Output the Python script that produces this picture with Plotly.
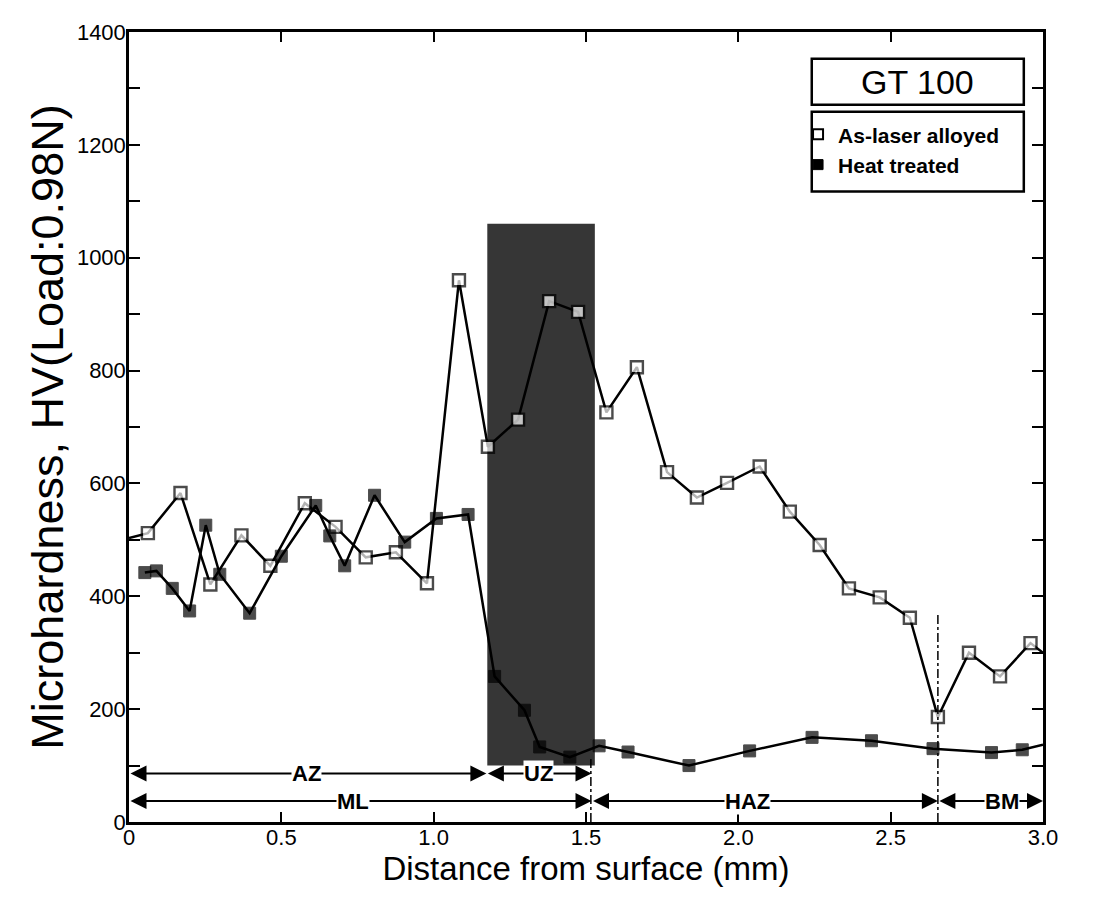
import plotly.graph_objects as go

# ---- data ----
laser_x = [0.0, 0.062, 0.169, 0.267, 0.369, 0.464, 0.577, 0.678, 0.777, 0.876, 0.978,
           1.083, 1.178, 1.277, 1.379, 1.474, 1.567, 1.667, 1.766, 1.864, 1.963, 2.070,
           2.169, 2.267, 2.363, 2.464, 2.563, 2.655, 2.757, 2.859, 2.959, 3.0]
laser_y = [503, 512, 583, 421, 508, 454, 565, 523, 469, 478, 423,
           960, 665, 713, 923, 904, 726, 806, 620, 575, 601, 630,
           550, 491, 414, 398, 362, 186, 300, 258, 317, 300]

ht_x = [0.052, 0.090, 0.142, 0.199, 0.252, 0.298, 0.396, 0.500, 0.613, 0.659, 0.708,
        0.806, 0.905, 1.009, 1.113, 1.200, 1.298, 1.348, 1.447, 1.543, 1.638, 1.838,
        2.037, 2.242, 2.437, 2.639, 2.831, 2.932, 3.0]
ht_y = [442, 445, 414, 374, 526, 439, 370, 471, 561, 507, 454,
        579, 496, 538, 545, 258, 198, 133, 115, 135, 124, 100,
        126, 150, 144, 130, 123, 128, 137]

series_names = ["As-laser alloyed", "Heat treated"]
x_ticks = [0, 0.5, 1.0, 1.5, 2.0, 2.5, 3.0]
x_tick_text = ["0", "0.5", "1.0", "1.5", "2.0", "2.5", "3.0"]
y_ticks = [0, 200, 400, 600, 800, 1000, 1200, 1400]

# zones: label, start, end, label position, row level
zone_labels = ["AZ", "UZ", "ML", "HAZ", "BM"]
zone_start = [0.0, 1.173, 0.0, 1.518, 2.655]
zone_end = [1.173, 1.518, 1.518, 2.655, 3.0]
zone_label_x = [0.582, 1.345, 0.735, 2.03, 2.865]
zone_level = [86, 86, 37, 37, 37]

shade_x = [1.176, 1.529]
shade_y = [100, 1060]
boundary_x = [1.516, 2.655]
boundary_top = [115, 370]

title_box_text = "GT 100"

# ---- figure ----
fig = go.Figure()

def sizes(xs, s):
    return [0 if (x <= 0.0 or x >= 3.0) else s for x in xs]

fig.add_trace(go.Scatter(
    x=laser_x, y=laser_y, mode="lines+markers", name=series_names[0], showlegend=False,
    line=dict(color="black", width=2.5),
    marker=dict(symbol="square", size=sizes(laser_x, 12), color="white",
                line=dict(color="black", width=2.4)),
))
fig.add_trace(go.Scatter(
    x=ht_x, y=ht_y, mode="lines+markers", name=series_names[1], showlegend=False,
    line=dict(color="black", width=2.5),
    marker=dict(symbol="square", size=sizes(ht_x, 12), color="black",
                line=dict(color="black", width=1)),
))
# legend entries (marker only, as in the reference)
fig.add_trace(go.Scatter(
    x=[None], y=[None], mode="markers", name=series_names[0],
    marker=dict(symbol="square", size=10, color="white", line=dict(color="black", width=2)),
))
fig.add_trace(go.Scatter(
    x=[None], y=[None], mode="markers", name=series_names[1],
    marker=dict(symbol="square", size=10, color="black", line=dict(color="black", width=1)),
))

shapes = []
shapes.append(dict(type="rect", xref="x", yref="y", x0=shade_x[0], x1=shade_x[1],
                   y0=shade_y[0], y1=shade_y[1], fillcolor="#363636",
                   line=dict(width=0), layer="below"))
for bx, bt in zip(boundary_x, boundary_top):
    shapes.append(dict(type="line", xref="x", yref="y", x0=bx, x1=bx, y0=0, y1=bt,
                       line=dict(color="black", width=1.5, dash="dashdot")))
# GT 100 box and legend box (paper coords)
shapes.append(dict(type="rect", xref="paper", yref="paper", x0=0.747, x1=0.979,
                   y0=0.908, y1=0.966, line=dict(color="black", width=2.5),
                   fillcolor="white"))
shapes.append(dict(type="rect", xref="paper", yref="paper", x0=0.747, x1=0.979,
                   y0=0.798, y1=0.899, line=dict(color="black", width=2.5),
                   fillcolor="white"))

annotations = []
for lab, s, e, lx, lv in zip(zone_labels, zone_start, zone_end, zone_label_x, zone_level):
    annotations.append(dict(x=e, y=lv, ax=s, ay=lv, xref="x", yref="y", axref="x", ayref="y",
                            text="", showarrow=True, arrowside="end+start", arrowhead=2,
                            arrowsize=1.6, arrowwidth=2, arrowcolor="black",
                            standoff=0, startstandoff=0))
for lab, s, e, lx, lv in zip(zone_labels, zone_start, zone_end, zone_label_x, zone_level):
    annotations.append(dict(x=lx, y=lv, xref="x", yref="y", text="<b>%s</b>" % lab,
                            showarrow=False, bgcolor="white", borderpad=0,
                            xanchor="center", yanchor="middle",
                            font=dict(size=22, color="black")))
annotations.append(dict(x=0.863, y=0.937, xref="paper", yref="paper", text=title_box_text,
                        showarrow=False, xanchor="center", yanchor="middle",
                        font=dict(size=34, color="black")))

fig.update_layout(
    width=1086, height=899,
    margin=dict(l=121, r=51, t=22, b=85),
    plot_bgcolor="white", paper_bgcolor="white",
    font=dict(family="Liberation Sans, Arial, sans-serif", color="black"),
    shapes=shapes, annotations=annotations,
    legend=dict(x=0.732, y=0.896, xanchor="left", yanchor="top",
                bgcolor="rgba(0,0,0,0)", borderwidth=0,
                font=dict(size=21, color="black", weight="bold"),
                itemwidth=30, tracegroupgap=0),
)
fig.update_xaxes(
    range=[0, 3.0], tickvals=x_ticks, ticktext=x_tick_text,
    showline=True, linecolor="black", linewidth=2.5, mirror="ticks",
    ticks="inside", ticklen=10, tickwidth=2, tickcolor="black",
    showgrid=False, zeroline=False, tickfont=dict(size=22), ticklabelstandoff=-6,
    title=dict(text="Distance from surface (mm)", font=dict(size=33), standoff=0),
)
fig.update_yaxes(
    range=[0, 1400], tickvals=y_ticks,
    showline=True, linecolor="black", linewidth=2.5, mirror="ticks",
    ticks="inside", ticklen=11, tickwidth=2, tickcolor="black",
    minor=dict(dtick=100, ticks="inside", ticklen=11, tickwidth=2, tickcolor="black"),
    showgrid=False, zeroline=False, tickfont=dict(size=22), ticklabelstandoff=-4,
    title=dict(text="Microhardness, HV(Load:0.98N)", font=dict(size=45), standoff=0),
)

fig.write_html("out.html")
